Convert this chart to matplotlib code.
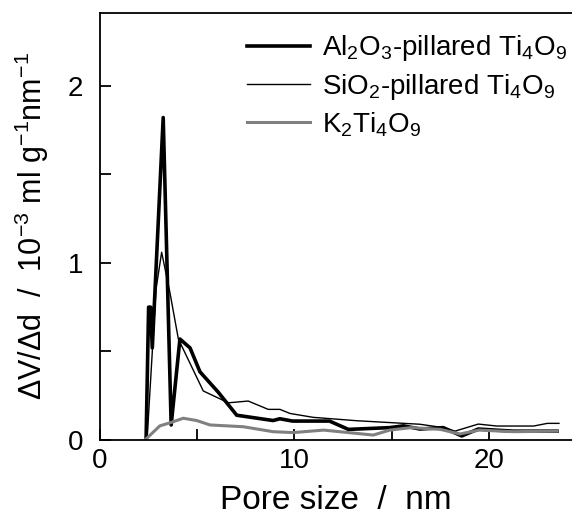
import numpy as np
import matplotlib.pyplot as plt
from matplotlib.ticker import MultipleLocator

plt.rcParams['font.family'] = ['Liberation Sans', 'DejaVu Sans']
plt.rcParams['mathtext.fontset'] = 'custom'
plt.rcParams['mathtext.rm'] = 'Liberation Sans'

## pore size (nm) vs dV/dd (10^-3 ml g^-1 nm^-1)
al_x = [2.37, 2.5, 2.6, 2.69, 3.25, 3.66, 4.11, 4.63, 5.14, 6.08, 7.03, 8.9, 9.25,
        9.9, 11.8, 12.77, 14.9, 15.6, 16.45, 17.65, 18.6, 19.45, 21.25, 23.5]
al_y = [0.0, 0.75, 0.75, 0.52, 1.82, 0.085, 0.57, 0.52, 0.385, 0.27, 0.14, 0.11, 0.12,
        0.107, 0.107, 0.06, 0.07, 0.08, 0.062, 0.07, 0.023, 0.062, 0.05, 0.05]

si_x = [2.42, 2.88, 3.17, 3.6, 4.03, 5.31, 6.6, 7.62, 8.65, 9.25, 9.77, 10.96,
        13.19, 16.45, 17.65, 18.25, 19.45, 20.4, 22.3, 23.0, 23.6]
si_y = [0.0, 0.85, 1.06, 0.83, 0.57, 0.277, 0.21, 0.22, 0.173, 0.173, 0.15, 0.128,
        0.109, 0.089, 0.07, 0.05, 0.09, 0.079, 0.079, 0.094, 0.094]

k_x = [2.31, 3.08, 3.68, 4.28, 4.97, 5.66, 7.37, 8.9, 9.94, 11.5, 14.05, 14.9,
       16.0, 17.5, 18.5, 19.5, 21.25, 23.5]
k_y = [0.0, 0.08, 0.1, 0.123, 0.11, 0.085, 0.075, 0.047, 0.042, 0.056, 0.028, 0.056,
       0.07, 0.06, 0.034, 0.056, 0.047, 0.05]

fig = plt.figure(figsize=(5.72, 5.29), dpi=100)
ax = fig.add_axes([0.1748, 0.1682, 0.8252, 0.8072])

ax.plot(al_x, al_y, color='black', lw=2.6, label=r'Al$_2$O$_3$-pillared Ti$_4$O$_9$')
ax.plot(si_x, si_y, color='black', lw=1.0, label=r'SiO$_2$-pillared Ti$_4$O$_9$')
ax.plot(k_x, k_y, color='0.5', lw=2.2, label=r'K$_2$Ti$_4$O$_9$')

ax.set_xlim(0, 24.27)
ax.set_ylim(0, 2.41)
ax.spines['right'].set_visible(False)
for s in ['left', 'bottom', 'top']:
    ax.spines[s].set_linewidth(1.3)

ax.xaxis.set_major_locator(MultipleLocator(10))
ax.xaxis.set_minor_locator(MultipleLocator(5))
ax.yaxis.set_major_locator(MultipleLocator(1))
ax.yaxis.set_minor_locator(MultipleLocator(0.5))
ax.tick_params(which='both', direction='in', length=8, width=1.3, top=False, right=False)
ax.tick_params(axis='x', labelsize=20, pad=6)
ax.tick_params(axis='y', labelsize=20, pad=12)

ax.set_xlabel('Pore size  /  nm', fontsize=24, labelpad=8)
ax.set_ylabel(r'ΔV/Δd  /  10$^{-3}$ ml g$^{-1}$nm$^{-1}$', fontsize=22, labelpad=12)

ax.legend(loc='upper left', bbox_to_anchor=(247 / 572, 0.937), bbox_transform=fig.transFigure,
          frameon=False, fontsize=20, handlelength=2.27, handletextpad=0.43,
          labelspacing=0.3, borderaxespad=0, borderpad=0)

fig.savefig('out.png', dpi=100)
